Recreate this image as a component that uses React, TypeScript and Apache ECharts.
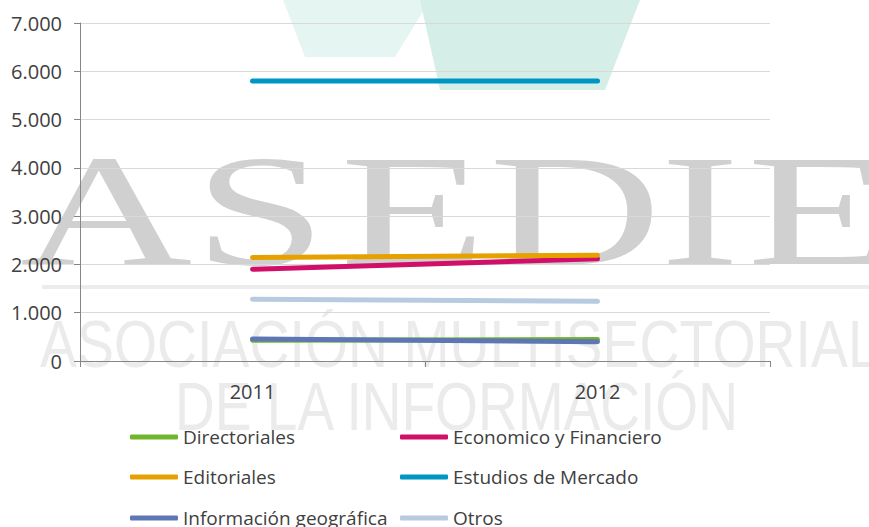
import React, { useEffect, useRef } from "react";
import * as echarts from "echarts";

const categories = ["2011", "2012"];
const seriesNames = [
  "Directoriales",
  "Economico y Financiero",
  "Editoriales",
  "Estudios de Mercado",
  "Información geográfica",
  "Otros",
];
const directoriales = [430, 445];
const economico = [1900, 2115];
const editoriales = [2145, 2190];
const estudios = [5800, 5800];
const infoGeo = [458, 398];
const otros = [1277, 1235];
const seriesColors = ["#70b62c", "#d10f69", "#e6a100", "#0096c4", "#5e77b4", "#b7cbe0"];
const yMin = 0;
const yMax = 7000;
const yInterval = 1000;

const FONT = "Open Sans";

export default function App() {
  const ref = useRef<HTMLDivElement>(null);
  useEffect(() => {
    document.body.style.margin = "0";
    if (!ref.current) return;
    const chart = echarts.init(ref.current, null, { renderer: "svg" });
    const values = [directoriales, economico, editoriales, estudios, infoGeo, otros];
    const legendPos = [
      [130, 427],
      [400, 427],
      [130, 467],
      [400, 467],
      [130, 508],
      [400, 508],
    ];
    const wmScale = 1.5;
    const letters = [
      ["A", 106],
      ["S", 260],
      ["E", 413],
      ["D", 575],
      ["I", 700],
      ["E", 820],
    ];
    const wm = "#d0d0d0";
    const graphic: any[] = [
      {
        type: "polygon",
        z: -10,
        shape: { points: [[283, 0], [430, 0], [395, 57], [305, 57]] },
        style: { fill: "#e5f6f2" },
      },
      {
        type: "polygon",
        z: -10,
        shape: { points: [[420, 0], [640, 0], [605, 90], [440, 90]] },
        style: { fill: "#d5eee8" },
      },
      {
        type: "group",
        x: 0,
        y: 0,
        scaleX: wmScale,
        z: -10,
        children: letters.map(([ch, x]) => ({
          type: "text",
          z: -10,
          x: (x as number) / wmScale,
          y: 210,
          style: {
            text: ch as string,
            font: "159px 'Liberation Serif'",
            fill: wm,
            align: "center",
            verticalAlign: "middle",
          },
        })),
      },
      {
        type: "rect",
        z: -10,
        shape: { x: 42, y: 285, width: 827, height: 4 },
        style: { fill: "#ececec" },
      },
      {
        type: "text",
        z: -10,
        x: 40,
        y: 344,
        scaleX: 0.84,
        style: {
          text: "ASOCIACIÓN MULTISECTORIAL",
          font: "66px 'Liberation Sans'",
          fill: "#ebebeb",
          align: "left",
          verticalAlign: "middle",
        },
      },
      {
        type: "text",
        z: -10,
        x: 175,
        y: 406,
        scaleX: 0.81,
        style: {
          text: "DE LA INFORMACIÓN",
          font: "68px 'Liberation Sans'",
          fill: "#ebebeb",
          align: "left",
          verticalAlign: "middle",
        },
      },
    ];

    chart.setOption({
      animation: false,
      backgroundColor: "#ffffff",
      graphic,
      grid: { left: 80, right: 99, top: 23, bottom: 166, containLabel: false },
      xAxis: {
        type: "category",
        data: categories,
        boundaryGap: true,
        axisLine: { show: true, lineStyle: { color: "#868686", width: 1 } },
        axisTick: { show: true, interval: 0, length: 6, lineStyle: { color: "#868686" } },
        axisLabel: { margin: 20, fontFamily: FONT, fontSize: 20, color: "#404040" },
        splitLine: { show: false },
      },
      yAxis: {
        type: "value",
        min: yMin,
        max: yMax,
        interval: yInterval,
        axisLine: { show: true, lineStyle: { color: "#868686", width: 1 } },
        axisTick: { show: true, length: 6, lineStyle: { color: "#868686" } },
        axisLabel: {
          margin: 18,
          fontFamily: FONT,
          fontSize: 20,
          color: "#404040",
          formatter: (v: number) => String(v).replace(/\B(?=(\d{3})+(?!\d))/g, "."),
        },
        splitLine: { show: true, lineStyle: { color: "#d9d9d9", width: 1 } },
      },
      legend: seriesNames.map((n, i) => ({
        data: [n],
        left: legendPos[i][0],
        top: legendPos[i][1],
        padding: 0,
        itemWidth: 48,
        itemHeight: 5,
        icon: "roundRect",
        selectedMode: false,
        textStyle: { fontFamily: FONT, fontSize: 19, color: "#404040", lineHeight: 20 },
      })),
      series: seriesNames.map((n, i) => ({
        name: n,
        type: "line",
        data: values[i],
        symbol: "none",
        color: seriesColors[i],
        lineStyle: { width: 5, color: seriesColors[i], cap: "round" },
        itemStyle: { color: seriesColors[i] },
        z: 2 + i,
      })),
    });
    return () => chart.dispose();
  }, []);
  return <div ref={ref} style={{ width: 869, height: 527 }} />;
}
